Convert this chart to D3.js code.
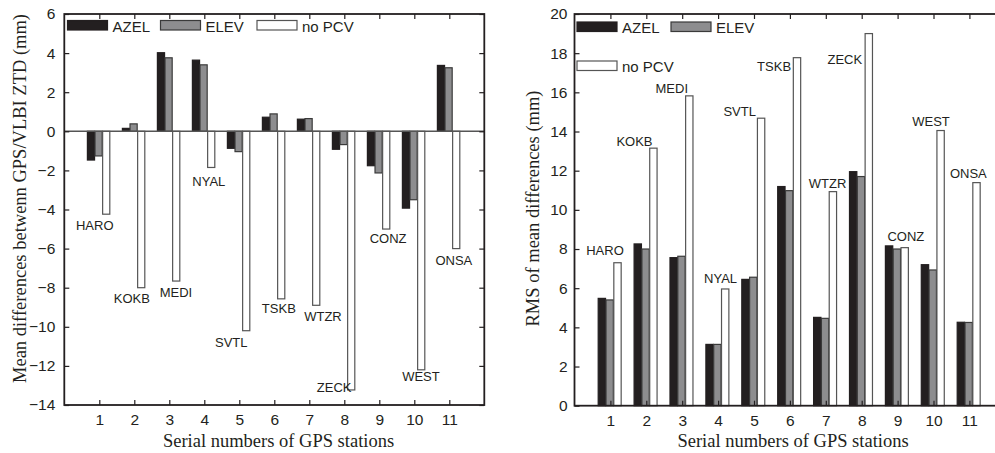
<!DOCTYPE html>
<html>
<head>
<meta charset="utf-8">
<script src="https://cdn.jsdelivr.net/npm/d3@7"></script>
<style>
  body { margin: 0; background: #fff; }
  svg { display: block; }
  .tick text { font-family: "Liberation Sans", Arial, sans-serif; font-size: 15.5px; fill: #231f20; }
  .tick line { stroke: #231f20; stroke-width: 1.2; }
  .title { font-family: "Liberation Serif", "Times New Roman", serif; font-size: 18.5px; fill: #231f20; }
  .lab { font-family: "Liberation Sans", Arial, sans-serif; font-size: 13px; fill: #231f20; }
  .leg { font-family: "Liberation Sans", Arial, sans-serif; font-size: 15px; fill: #231f20; }
</style>
</head>
<body>
<div id="chart"></div>
<script>
// station data
const serials = [1, 2, 3, 4, 5, 6, 7, 8, 9, 10, 11];
const stations = ['HARO', 'KOKB', 'MEDI', 'NYAL', 'SVTL', 'TSKB', 'WTZR', 'ZECK', 'CONZ', 'WEST', 'ONSA'];
const series = ['AZEL', 'ELEV', 'no PCV'];

// left panel: mean differences GPS/VLBI ZTD (mm)
const meanAzel = [-1.47, 0.15, 4.02, 3.64, -0.87, 0.72, 0.62, -0.92, -1.76, -3.93, 3.37];
const meanElev = [-1.26, 0.38, 3.76, 3.40, -1.04, 0.89, 0.65, -0.68, -2.13, -3.50, 3.25];
const meanNoPcv = [-4.24, -8.0, -7.66, -1.85, -10.2, -8.57, -8.9, -13.23, -5.0, -12.2, -6.0];
const meanTicks = [-14, -12, -10, -8, -6, -4, -2, 0, 2, 4, 6];
// station label anchors (serial, value)
const meanLabelX = [0.87, 1.93, 3.19, 4.13, 4.77, 6.13, 7.39, 7.71, 9.25, 10.19, 11.13];
const meanLabelY = [-5.05, -8.8, -8.49, -2.81, -11.05, -9.31, -9.68, -13.35, -5.73, -12.75, -6.82];

// right panel: RMS of mean differences (mm)
const rmsAzel = [5.48, 8.26, 7.56, 3.13, 6.45, 11.19, 4.51, 11.95, 8.16, 7.2, 4.26];
const rmsElev = [5.4, 8.0, 7.63, 3.13, 6.56, 10.98, 4.46, 11.7, 8.0, 6.93, 4.25];
const rmsNoPcv = [7.3, 13.15, 15.82, 5.96, 14.68, 17.77, 10.93, 19.0, 8.07, 14.05, 11.39];
const rmsTicks = [0, 2, 4, 6, 8, 10, 12, 14, 16, 18, 20];
const rmsLabelX = [0.85, 1.67, 2.71, 4.07, 4.6, 5.56, 7.05, 7.53, 9.23, 9.93, 10.97];
const rmsLabelY = [7.7, 13.26, 15.96, 6.25, 14.8, 17.11, 11.13, 17.45, 8.43, 14.29, 11.61];

const fills = { 'AZEL': '#231f20', 'ELEV': '#8d8d8f', 'no PCV': '#ffffff' };
const strokes = { 'AZEL': '#231f20', 'ELEV': '#3a3a3a', 'no PCV': '#555' };

const svg = d3.select('#chart').append('svg')
  .attr('width', 995)
  .attr('height', 453);

function drawPanel(cfg) {
  const x = d3.scaleLinear().domain([0, 12]).range([cfg.left, cfg.right]);
  const y = d3.scaleLinear().domain(cfg.yDomain).range([cfg.bottom, cfg.top]);
  const step = x(1) - x(0);
  // sub-band for the three bars inside each station group
  const sub = d3.scaleBand().domain(series).range([-0.34 * step, 0.3 * step]).paddingInner(0.06);

  const g = svg.append('g');

  // bars
  const rows = serials.map((s, i) => ({ s, name: stations[i], vals: cfg.values.map(v => v[i]) }));
  const grp = g.selectAll('.grp').data(rows).enter().append('g')
    .attr('class', 'grp')
    .attr('transform', d => `translate(${x(d.s)},0)`);
  grp.selectAll('rect')
    .data(d => series.map((k, j) => ({ k, v: d.vals[j] })))
    .enter().append('rect')
      .attr('x', d => sub(d.k))
      .attr('width', sub.bandwidth())
      .attr('y', d => Math.min(y(d.v), y(0)))
      .attr('height', d => Math.abs(y(d.v) - y(0)))
      .attr('fill', d => fills[d.k])
      .attr('stroke', d => strokes[d.k])
      .attr('stroke-width', 1.2);

  // zero line (left panel)
  if (cfg.yDomain[0] < 0) {
    g.append('line')
      .attr('x1', x(0)).attr('x2', x(12))
      .attr('y1', y(0)).attr('y2', y(0))
      .attr('stroke', '#555').attr('stroke-width', 1.5);
  }

  // axes, ticks point inward
  const bottomAxis = g.append('g').attr('transform', `translate(0,${cfg.bottom})`)
    .call(d3.axisBottom(x).tickValues(serials).tickSizeInner(-5).tickSizeOuter(0).tickPadding(9));
  const topAxis = g.append('g').attr('transform', `translate(0,${cfg.top})`)
    .call(d3.axisTop(x).tickValues(serials).tickSizeInner(-5).tickSizeOuter(0).tickFormat(''));
  const leftAxis = g.append('g').attr('transform', `translate(${cfg.left},0)`)
    .call(d3.axisLeft(y).tickValues(cfg.ticks).tickSizeInner(-5).tickSizeOuter(0).tickPadding(cfg.yPad));
  const rightAxis = g.append('g').attr('transform', `translate(${cfg.right},0)`)
    .call(d3.axisRight(y).tickValues(cfg.ticks).tickSizeInner(-5).tickSizeOuter(0).tickFormat(''));
  [bottomAxis, topAxis, leftAxis, rightAxis].forEach(a => a.select('.domain').remove());

  // frame
  g.append('rect')
    .attr('x', cfg.left).attr('y', cfg.top)
    .attr('width', cfg.right - cfg.left).attr('height', cfg.bottom - cfg.top)
    .attr('fill', 'none').attr('stroke', '#231f20').attr('stroke-width', 1.8);

  // station labels
  g.selectAll('.lab').data(stations).enter().append('text')
    .attr('class', 'lab')
    .attr('text-anchor', 'middle')
    .attr('x', (d, i) => x(cfg.labelX[i]))
    .attr('y', (d, i) => y(cfg.labelY[i]))
    .text(d => d);

  // legend
  cfg.legend.forEach((p, j) => {
    g.append('rect')
      .attr('x', p[0]).attr('y', p[1]).attr('width', 40).attr('height', 9.5)
      .attr('fill', fills[series[j]]).attr('stroke', strokes[series[j]]).attr('stroke-width', 1.2);
    g.append('text').attr('class', 'leg')
      .attr('x', p[0] + 45).attr('y', p[1] + 11)
      .text(series[j]);
  });

  // axis titles
  g.append('text').attr('class', 'title')
    .attr('text-anchor', 'middle')
    .attr('x', cfg.xTitleX).attr('y', 447)
    .text('Serial numbers of GPS stations');
  g.append('text').attr('class', 'title')
    .attr('text-anchor', 'middle')
    .attr('transform', `translate(${cfg.yTitleX},${cfg.yTitleY}) rotate(-90)`)
    .text(cfg.yTitle);
}

drawPanel({
  left: 64.3, right: 484.3, top: 14, bottom: 405,
  yDomain: [-14, 6], ticks: meanTicks, yPad: 9,
  values: [meanAzel, meanElev, meanNoPcv],
  labelX: meanLabelX, labelY: meanLabelY,
  legend: [[67.5, 20.5], [160.5, 20.5], [257, 20.5]],
  xTitleX: 278.5, yTitleX: 26, yTitleY: 198.5,
  yTitle: 'Mean differences betwenn GPS/VLBI ZTD (mm)'
});

drawPanel({
  left: 574.5, right: 1005.3, top: 14, bottom: 405.7,
  yDomain: [0, 20], ticks: rmsTicks, yPad: 7,
  values: [rmsAzel, rmsElev, rmsNoPcv],
  labelX: rmsLabelX, labelY: rmsLabelY,
  legend: [[577, 22], [671, 22], [577, 61]],
  xTitleX: 793, yTitleX: 539, yTitleY: 208.5,
  yTitle: 'RMS of mean differences (mm)'
});
</script>
</body>
</html>
